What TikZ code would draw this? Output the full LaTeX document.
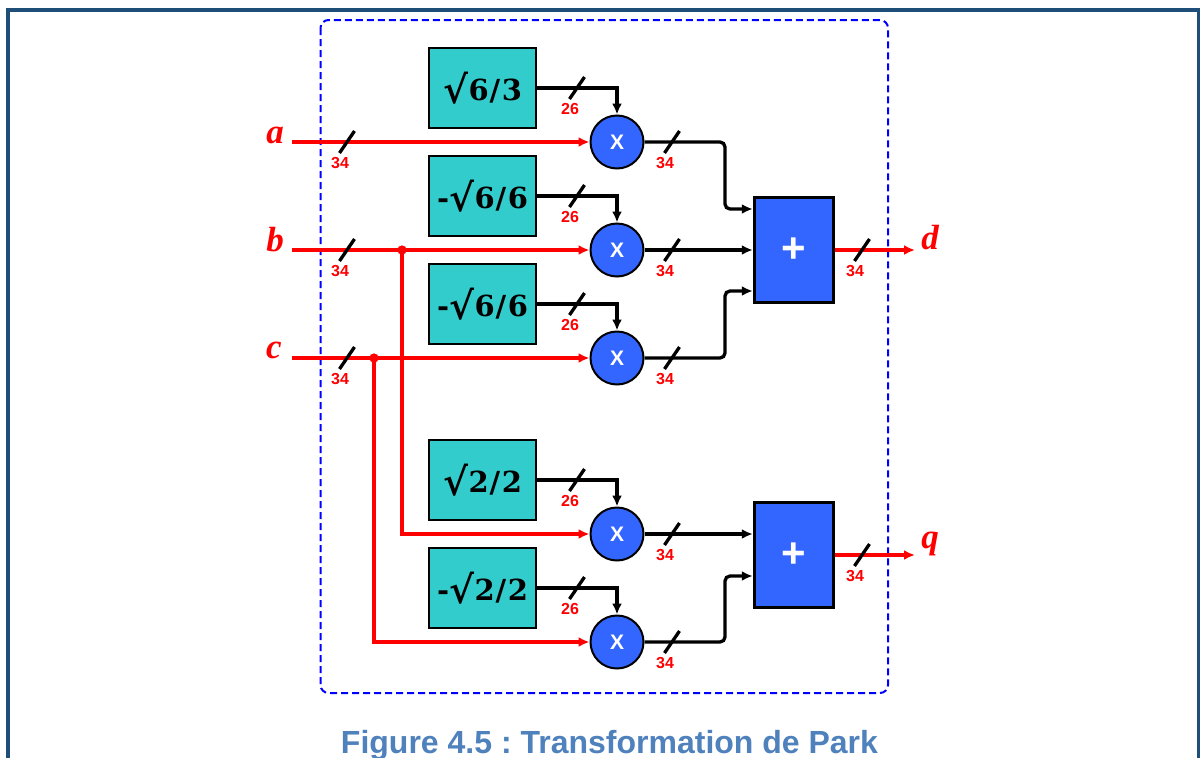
\documentclass[tikz,border=0pt]{standalone}
\usepackage{fontspec}
\setmainfont{Liberation Sans}
\newfontfamily\lbl{Liberation Serif}
\newfontfamily\coeffont{DejaVu Serif}
\usetikzlibrary{arrows.meta}
\definecolor{frameblue}{HTML}{1F4E79}
\definecolor{capblue}{HTML}{4F81BD}
\definecolor{mulblue}{HTML}{3366FF}
\definecolor{boxcyan}{HTML}{33CCCC}
\definecolor{sigred}{HTML}{FF0000}
\definecolor{dashblue}{HTML}{0000FF}
\newcommand\rt{\raisebox{-2.5pt}{\fontsize{38pt}{38pt}\selectfont √}}
\newcommand\coefval[3]{#1\rt\kern0.5pt #2\kern1pt/\kern1.5pt #3}
\begin{document}
\frenchspacing
\begin{tikzpicture}[x=1pt,y=-1pt,
  coef/.style={draw=black, line width=2pt, fill=boxcyan, minimum width=107pt, minimum height=80pt, inner sep=0pt, font=\coeffont\bfseries\fontsize{29pt}{29pt}\selectfont},
  mul/.style={circle, draw=black, line width=2pt, fill=mulblue, minimum size=53pt, inner sep=0pt, text=white, font=\bfseries\fontsize{21pt}{21pt}\selectfont},
  adder/.style={draw=black, line width=3.5pt, fill=mulblue, minimum width=79pt, minimum height=105pt, inner sep=0pt, text=white, font=\bfseries\fontsize{42pt}{42pt}\selectfont},
  sig/.style={draw=sigred, line width=3.3pt, -{Latex[length=11pt,width=10pt]}},
  wire/.style={draw=black, line width=3.3pt, -{Latex[length=11pt,width=10pt]}},
  var/.style={text=sigred, font=\lbl\bfseries\itshape\fontsize{35pt}{35pt}\selectfont, anchor=base, inner sep=0pt},
  wl/.style={text=sigred, font=\bfseries\fontsize{16pt}{16pt}\selectfont, inner sep=0pt},
  jdot/.style={circle, fill=sigred, minimum size=9pt, inner sep=0pt},
  bus/.pic={\draw[black, line width=3.3pt] (-7.5,11) -- (7.5,-11);
            \node[wl] at (-7,21) {#1};}
]
\clip (0,0) rectangle (1200,758);
% page frame
\draw[frameblue, line width=4pt] (8,770) -- (8,10) -- (1198.5,10) -- (1198.5,770);
% dashed enclosure
\draw[dashblue, line width=2pt, dash pattern=on 7pt off 4pt, rounded corners=8pt] (320.5,20) rectangle (888,693);

% coefficient boxes
\node[coef] (k1) at (482.5,88)  {\coefval{}{6}{3}};
\node[coef] (k2) at (482.5,196) {\coefval{-}{6}{6}};
\node[coef] (k3) at (482.5,304) {\coefval{-}{6}{6}};
\node[coef] (k4) at (482.5,480) {\coefval{}{2}{2}};
\node[coef] (k5) at (482.5,588) {\coefval{-}{2}{2}};

% multipliers
\node[mul] (m1) at (617,142) {X};
\node[mul] (m2) at (617,250) {X};
\node[mul] (m3) at (617,358) {X};
\node[mul] (m4) at (617,534) {X};
\node[mul] (m5) at (617,642) {X};

% adders
\node[adder] (s1) at (794,250) {+};
\node[adder] (s2) at (794,555) {+};

% inputs
\coordinate (ain) at (292,142);
\coordinate (bin) at (292,250);
\coordinate (cin) at (292,358);
\node[var] (la) at (275,143) {a};
\node[var] (lb) at (275,251) {b};
\node[var] (lc) at (274,358) {c};
\node[jdot] (jb) at (402,250) {};
\node[jdot] (jc) at (374,358) {};
\draw[sig] (ain) -- (m1.west);
\draw[sig] (bin) -- (m2.west);
\draw[sig] (cin) -- (m3.west);
\draw[sig] (jb.center) |- (m4.west);
\draw[sig] (jc.center) |- (m5.west);
\node[jdot] at (jb) {};
\node[jdot] at (jc) {};

% coefficients to multipliers
\foreach \k/\m in {k1/m1,k2/m2,k3/m3,k4/m4,k5/m5}
  \draw[wire] (\k.east) -| (\m.north);

% multipliers to adders
\draw[wire, rounded corners=5pt] (m1.east) -- (725,142) |- ([yshift=41pt]s1.west);
\draw[wire] (m2.east) -- (m2.east -| s1.west);
\draw[wire, rounded corners=5pt] (m3.east) -- (725,358) |- ([yshift=-41pt]s1.west);
\draw[wire] (m4.east) -- (m4.east -| s2.west);
\draw[wire, rounded corners=5pt] (m5.east) -- (725,642) |- ([yshift=-21pt]s2.west);

% outputs
\coordinate (dout) at (915,250);
\coordinate (qout) at (915,555);
\draw[sig] (s1.east) -- (dout);
\draw[sig] (s2.east) -- (qout);
\node[var] (ld) at (930,249) {d};
\node[var] (lq) at (930,548) {q};

% bus width marks
\foreach \y in {142,250,358} \pic at (347,\y) {bus=34};
\foreach \y in {88,196,304,480,588} \pic at (577,\y) {bus=26};
\foreach \y in {142,250,358,534,642} \pic at (672,\y) {bus=34};
\pic at (862,250) {bus=34};
\pic at (862,555) {bus=34};

% caption
\node[anchor=base, inner sep=0pt, text=capblue, font=\bfseries\fontsize{32pt}{32pt}\selectfont] (cap) at (609.5,753) {Figure 4.5 : Transformation de Park};
\end{tikzpicture}
\end{document}
